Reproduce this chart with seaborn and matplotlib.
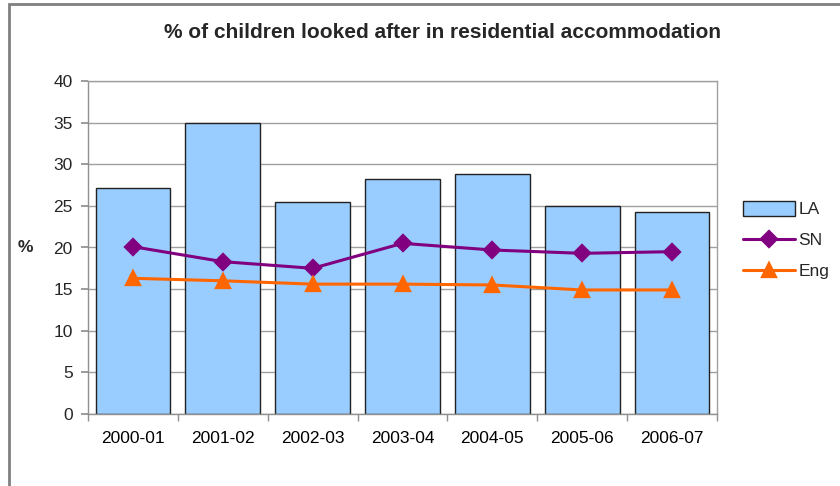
import seaborn as sns
import matplotlib.pyplot as plt
from matplotlib.patches import Rectangle

years = ["2000-01", "2001-02", "2002-03", "2003-04", "2004-05", "2005-06", "2006-07"]
la = [27.1, 35.0, 25.5, 28.2, 28.8, 25.0, 24.3]
sn = [20.1, 18.3, 17.5, 20.5, 19.7, 19.3, 19.5]
eng = [16.3, 16.0, 15.6, 15.6, 15.5, 14.9, 14.9]

sns.set_theme(style="white")
plt.rcParams['font.family'] = ['Liberation Sans', 'DejaVu Sans']

fig = plt.figure(figsize=(8.4, 4.86), dpi=100)
ax = fig.add_axes([88/840, 1-414/486, (717-88)/840, (414-81)/486])

# bars
sns.barplot(x=years, y=la, ax=ax, color="#99CCFF", saturation=1, width=0.83,
            edgecolor="#222222", linewidth=1, label="LA", zorder=2)
# lines
sns.pointplot(x=years, y=sn, ax=ax, color="#800080", markers="D", markersize=8,
              linewidth=2.2, label="SN", errorbar=None)
sns.pointplot(x=years, y=eng, ax=ax, color="#FF6600", markers="^", markersize=10,
              linewidth=2.2, label="Eng", errorbar=None)
for c in ax.lines:
    c.set_zorder(4)

ax.set_ylim(0, 40)
ax.set_yticks(range(0, 41, 5))
ax.set_xlim(-0.5, 6.5)
ax.yaxis.grid(True, color="#a0a0a0", linewidth=1, zorder=0)
ax.set_axisbelow(True)
for s in ax.spines.values():
    s.set_color("#a0a0a0")
    s.set_linewidth(1)
ax.spines["left"].set_color("#909090")
ax.spines["bottom"].set_color("#909090")

ax.set_xticks([x - 0.5 for x in range(8)], minor=True)
ax.tick_params(axis="x", which="major", length=0, pad=12, labelsize=12.5, colors="black")
ax.tick_params(axis="x", which="minor", length=5, color="#909090", direction="out", bottom=True)
ax.tick_params(axis="y", length=5, color="#909090", direction="out", left=True, labelsize=12.5, pad=6)
ax.set_xlabel("")
ax.set_ylabel("%", rotation=0, fontsize=12.5, fontweight="bold", labelpad=20, va="center")

handles, labels = ax.get_legend_handles_labels()
order = [labels.index(n) for n in ["LA", "SN", "Eng"]]
ax.legend([handles[i] for i in order], [labels[i] for i in order],
          loc="center left", bbox_to_anchor=(1.027, 0.522), frameon=False,
          fontsize=12.5, handlelength=3.0, handleheight=0.9, labelspacing=0.85,
          handletextpad=0.2, borderpad=0)

fig.text(443/840, 1-33/486, "% of children looked after in residential accommodation",
         ha="center", va="center", fontsize=15, fontweight="bold")

# outer chart border
fig.patches.append(Rectangle((9/840, -0.1), 1.2, 1-4/486+0.1, transform=fig.transFigure,
                             fill=False, edgecolor="#808080", linewidth=2))

plt.savefig("out.png", dpi=100)
